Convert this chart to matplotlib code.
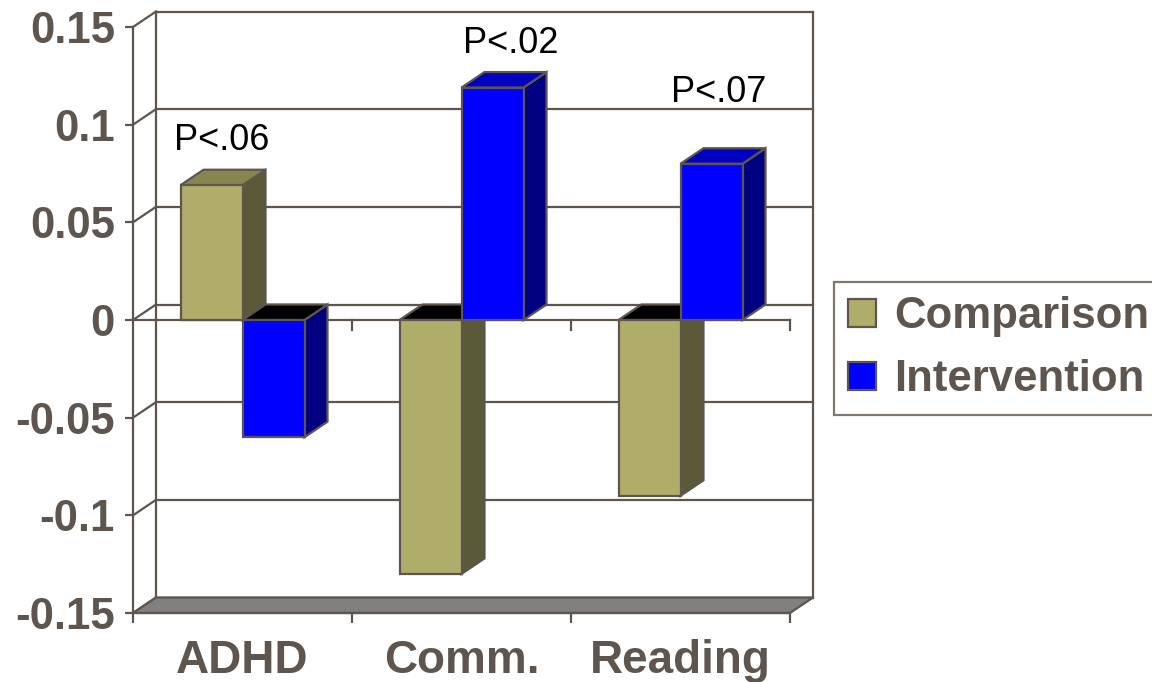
import matplotlib
matplotlib.use("Agg")
import matplotlib.pyplot as plt
from matplotlib.patches import Polygon, Patch

# ---- data ----
categories = ["ADHD", "Comm.", "Reading"]
comparison = [0.069, -0.130, -0.090]
intervention = [-0.060, 0.119, 0.080]
series_names = ["Comparison", "Intervention"]
p_labels = ["P<.06", "P<.02", "P<.07"]
y_ticks = [-0.15, -0.1, -0.05, 0, 0.05, 0.1, 0.15]
y_tick_labels = ["-0.15", "-0.1", "-0.05", "0", "0.05", "0.1", "0.15"]

# ---- styles / positions ----
label_x = [0.406, 1.726, 2.676]
label_y = [0.087, 0.1366, 0.1115]
front_cols = ["#B0AC6A", "#0000FF"]
top_cols = ["#88864F", "#0000C0"]
side_cols = ["#5A5938", "#000080"]
edge = "#5E564E"
txt = "#5E564E"
W, H = 1152, 682
plt.rcParams["font.family"] = ["Liberation Sans", "DejaVu Sans"]

fig = plt.figure(figsize=(W / 100, H / 100), dpi=100)
ax = fig.add_axes([133 / W, 1 - 613 / H, (790 - 133) / W, (613 - 27) / H])
ymin, ymax = -0.15, 0.15
ncat = len(categories)
ax.set_xlim(0, ncat)
ax.set_ylim(ymin, ymax)

px_x = (790 - 133) / ncat          # pixels per category unit
px_y = (613 - 27) / (ymax - ymin)  # pixels per value unit
dx = 23 / px_x
dy = 15.5 / px_y
lw = 1.6

# back wall and side wall lines
for v in y_ticks:
    ax.plot([dx, ncat + dx], [v + dy, v + dy], color=edge, lw=lw, clip_on=False, zorder=1)
    ax.plot([0, dx], [v, v + dy], color=edge, lw=lw, clip_on=False, zorder=1)
ax.plot([dx, dx], [ymin + dy, ymax + dy], color=edge, lw=lw, clip_on=False, zorder=1)
ax.plot([ncat + dx, ncat + dx], [ymin + dy, ymax + dy], color=edge, lw=lw, clip_on=False, zorder=1)

# floor
floor = Polygon([(0, ymin), (ncat, ymin), (ncat + dx, ymin + dy), (dx, ymin + dy)],
                closed=True, facecolor="#808080", edgecolor=edge, lw=lw, clip_on=False, zorder=2)
ax.add_patch(floor)

# zero line (category axis) with ticks
ax.plot([0, ncat], [0, 0], color=edge, lw=lw, clip_on=False, zorder=2)
tick_dv = 10 / px_y
for k in range(1, ncat + 1):
    ax.plot([k, k], [0, -tick_dv], color=edge, lw=lw, clip_on=False, zorder=2)

# bars
bw = 62 / px_x
z = 3
for i in range(ncat):
    c = i + 0.5
    for s, vals in enumerate([comparison, intervention]):
        v = vals[i]
        x0 = c - bw if s == 0 else c
        ax.bar(x0, v, width=bw, align="edge", color=front_cols[s], edgecolor=edge,
               lw=lw, zorder=z + 0.5, clip_on=False)
        x1 = x0 + bw
        # side face
        side = Polygon([(x1, 0), (x1, v), (x1 + dx, v + dy), (x1 + dx, dy)], closed=True,
                       facecolor=side_cols[s], edgecolor=edge, lw=lw, clip_on=False, zorder=z)
        ax.add_patch(side)
        # top face
        ttop = max(v, 0)
        tcol = top_cols[s] if v > 0 else "#000000"
        top = Polygon([(x0, ttop), (x1, ttop), (x1 + dx, ttop + dy), (x0 + dx, ttop + dy)],
                      closed=True, facecolor=tcol, edgecolor=edge, lw=lw, clip_on=False, zorder=z)
        ax.add_patch(top)
        z += 1

# p-value labels
for lx, ly, t in zip(label_x, label_y, p_labels):
    ax.text(lx, ly, t, ha="center", va="baseline", fontsize=26, color="black", zorder=20)

# axes styling
for sp in ["top", "right"]:
    ax.spines[sp].set_visible(False)
for sp in ["left", "bottom"]:
    ax.spines[sp].set_color(edge)
    ax.spines[sp].set_linewidth(lw)
    ax.spines[sp].set_zorder(2.5)
ax.set_yticks(y_ticks)
ax.set_yticklabels(y_tick_labels)
ax.set_xticks(range(ncat + 1))
ax.set_xticklabels([""] * (ncat + 1))
ax.set_xticks([i + 0.5 for i in range(ncat)], minor=True)
ax.set_xticklabels(categories, minor=True)
ax.tick_params(axis="y", direction="out", length=6, width=lw, color=edge,
               labelsize=31.5, labelcolor=txt, pad=7)
ax.tick_params(axis="x", which="major", direction="out", length=7, width=lw, color=edge)
ax.tick_params(axis="x", which="minor", length=0, labelsize=33, labelcolor=txt, pad=19)
for lab in ax.get_yticklabels() + ax.get_xticklabels(minor=True):
    lab.set_fontweight("bold")
ax.set_facecolor("none")

# legend
handles = [Patch(facecolor=front_cols[s], edgecolor=edge, lw=lw) for s in range(2)]
leg = fig.legend(handles, series_names, loc="upper left",
                 bbox_to_anchor=(834 / W, 1 - 282 / H), frameon=True, fancybox=False,
                 prop={"size": 31.5, "weight": "bold"}, handlelength=0.63, handleheight=0.63,
                 handletextpad=0.42, borderpad=0.33, labelspacing=0.5, borderaxespad=0)
leg.get_frame().set_edgecolor(edge)
leg.get_frame().set_linewidth(lw)
for t in leg.get_texts():
    t.set_color(txt)

fig.savefig("out.png", dpi=100)
